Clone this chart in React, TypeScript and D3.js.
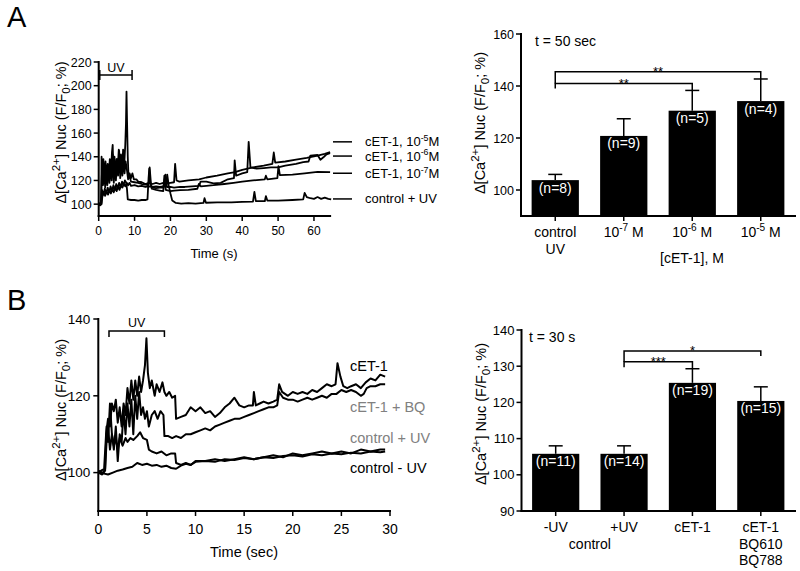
import React from 'react';
import * as d3 from 'd3';

type Pt = [number, number];
const FONT = '"Liberation Sans", Arial, Helvetica, sans-serif';

// ---------------- Panel A : time course (time s, value %) ----------------
const traceA_1e5: Pt[] = [[0,101],[0.4,100],[0.7,101],[0.8,140],[1.0,126],[1.3,138],[1.6,122],[1.9,136],[2.2,120],[2.5,134],[2.8,124],[3.1,138],[3.4,126],[3.7,144],[3.9,150],[4.1,128],[4.4,140],[4.7,124],[5.0,138],[5.3,130],[5.6,146],[5.9,128],[6.2,142],[6.5,126],[6.8,146],[7.1,132],[7.4,150],[7.6,168],[7.75,195],[7.9,170],[8.1,140],[8.3,124],[8.6,126],[9,122],[9.4,126],[9.8,121],[10.5,121],[11,119],[12,118.5],[13,117],[14,118],[15,117],[16,118],[17,117],[18,118],[19,117.5],[20,118],[21,118.5],[21.3,134],[21.7,120],[22.5,119],[25,120],[28,121],[30,122.5],[33,124],[36,126],[38,127],[40,129],[43,131],[46,132.5],[48.4,134],[48.8,143.6],[49.2,135],[52,136],[55,137.5],[58,139],[61,141],[63,142.5],[64.5,144]];
const traceA_1e6: Pt[] = [[0,100],[0.6,101],[0.9,126],[1.2,116],[1.5,130],[1.8,114],[2.1,128],[2.4,116],[2.7,133],[3.0,118],[3.3,135],[3.6,120],[3.9,142],[4.2,118],[4.5,132],[4.8,120],[5.1,138],[5.4,124],[5.7,145],[6.0,122],[6.3,138],[6.6,124],[6.9,140],[7.2,126],[7.5,136],[7.9,128],[8.2,121],[8.6,124],[9,119],[10,118.5],[11,118],[12,117],[13,116.5],[13.9,116],[14.2,131],[14.6,116],[15,114],[16,113.5],[17,114],[18,114],[18.6,125],[19,114.5],[20,114.5],[21,114],[22.7,114.6],[24,114.5],[26,115],[28,115.5],[28.4,119],[30,119],[32,117.5],[34,118],[36,121],[37.7,122],[37.9,137],[38.3,124],[40,126],[41.4,127],[41.8,152.6],[42.3,131],[44,130],[46,130.5],[48,131],[50,131],[52,132.5],[55,134],[57,135.5],[58.5,136],[59,141],[61,141.5],[61.8,137.5],[62.8,140],[63.5,142],[64.5,143]];
const traceA_1e7: Pt[] = [[0,99],[0.7,100],[0.9,112],[1.3,108],[1.7,113],[2.1,109],[2.5,114],[2.9,110],[3.3,115],[3.7,111],[4.1,116],[4.5,112],[4.9,117],[5.3,113],[5.7,118],[6.1,114],[6.5,119],[6.9,116],[7.3,120],[7.7,118],[7.9,112],[8.1,104],[9,103.5],[10,103.5],[11,103],[12,103.5],[13,103.5],[13.6,104],[13.9,122],[14.1,130],[14.4,118],[14.8,113],[16,112],[17,111.5],[18,111],[18.3,124],[18.7,112],[20,111],[21,111.5],[22.7,111.8],[25,112],[27.5,113],[27.9,117],[28.5,115],[30,115.5],[32,116],[35,117],[37.6,118],[40,119],[43,120],[46.3,121],[46.6,124],[47,121],[49.8,122],[50.1,132],[50.5,124.5],[54,125],[57.4,126],[61,127.3],[64.5,127]];
const traceA_ctrl: Pt[] = [[0,100],[0.4,99],[0.8,100],[1.0,106],[1.4,110],[1.8,107],[2.2,111],[2.6,108],[3.0,112],[3.4,109],[3.8,113],[4.2,110],[4.6,114],[5.0,111],[5.4,115],[5.8,112],[6.2,116],[6.6,114],[7.0,117],[7.4,115],[7.8,118],[8.2,116],[8.6,118],[9,115.5],[10,116],[11,115],[12,115.5],[13,114.5],[14,115],[15,114.5],[16,115],[17,114.5],[18,115],[18.8,115],[19.1,125],[19.5,116],[20,109],[20.5,103],[21.5,101],[23,100.5],[25,100.8],[27,100.5],[29.2,101],[29.5,105],[29.9,101.2],[33,101.5],[37,101.5],[40,102],[43,102.2],[43.4,110.4],[43.8,102.5],[46.3,102.5],[46.6,106.8],[47,103],[50,103],[54,103.5],[57,104],[57.4,109.5],[58,106],[59,105],[60,104.5],[61,106],[62,104.5],[63,105.5],[64,104.5],[64.8,104]];
const legendA_labels = ['cET-1, 10^{-5}M', 'cET-1, 10^{-6}M', 'cET-1, 10^{-7}M', 'control + UV'];
const legendA_levels = [152.6, 140.6, 126.1, 104.4];
const timeTicksA = [0, 10, 20, 30, 40, 50, 60];
const valueTicksA = [100, 120, 140, 160, 180, 200, 220];
const uvA = { start: 0.3, end: 9.3, level: 209 };

// ---------------- Panel A : bars ----------------
const barCatsA = [['control', 'UV'], ['10^{-7} M'], ['10^{-6} M'], ['10^{-5} M']];
const barMeanA = [103.8, 120.8, 130.5, 134.2];
const barSemA = [2.2, 6.6, 7.8, 8.5];
const barNA = ['(n=8)', '(n=9)', '(n=5)', '(n=4)'];
const barTicksA = [100, 120, 140, 160];
const sigA = [
  { from: 0, to: 3, level: 145.5, leftTo: 141, rightTo: 142.7, label: '**' },
  { from: 0, to: 2, level: 141, leftTo: 139, rightTo: 138.3, label: '**' },
];

// ---------------- Panel B : time course ----------------
const traceB_cet: Pt[] = [[0,100],[0.3,100.5],[0.6,101],[0.8,110],[1.0,114],[1.2,112],[1.4,118],[1.6,116],[1.8,119],[2.0,113],[2.2,117],[2.4,112],[2.6,118],[2.8,115],[3.0,122],[3.2,118],[3.4,124],[3.6,119],[3.8,124],[4.0,120],[4.2,125],[4.4,121],[4.6,124],[4.8,128],[4.95,135],[5.1,126],[5.3,122],[5.5,124],[5.8,120],[6.0,123],[6.3,121],[6.6,123.5],[6.8,121],[7.0,120],[7.3,121],[7.6,119.5],[7.9,120],[8.0,114],[8.5,114.5],[9.0,115],[9.5,117],[10,116],[10.5,117],[11,115.5],[11.5,116],[12,114.5],[12.5,115.5],[13,117],[13.5,118],[14,119.5],[14.5,117.5],[15,117],[15.5,117.5],[15.9,117.5],[16.0,121],[16.2,117.5],[16.6,118],[17,118.5],[17.5,118],[18,118.5],[18.4,119],[18.6,123],[18.9,121],[19.5,120],[20,121],[20.5,120.5],[21,121],[21.5,120.5],[22,121.5],[22.5,121],[23,122],[23.5,123],[24,122.5],[24.4,123],[24.6,128.5],[24.9,125],[25.2,122.5],[25.6,122],[26,122.5],[26.5,123],[27,122],[27.5,123.5],[28,124.5],[28.5,124],[29,125.5],[29.5,125]];
const traceB_bq: Pt[] = [[0,100],[0.4,99.5],[0.7,100.5],[0.85,112],[1.0,108],[1.2,118],[1.4,110],[1.6,106],[1.8,112],[2.0,103],[2.2,110],[2.4,108],[2.6,116],[2.8,110],[3.0,118],[3.2,112],[3.4,119],[3.6,110],[3.8,120],[4.0,114],[4.2,121],[4.4,115],[4.6,117],[4.8,114],[5.0,116],[5.2,112],[5.5,115],[5.8,116],[6.1,114],[6.4,116],[6.7,115],[6.8,109.5],[7.2,109.5],[7.6,109],[8,109.5],[8.5,109],[9,110],[9.5,110],[10,110.5],[10.5,111],[11,111.5],[11.5,111],[12,112],[12.5,112.5],[13,113],[13.5,113.5],[14,114],[14.5,114],[15,114.5],[15.5,115],[16,115.5],[16.5,116],[17,116.5],[17.5,117],[18,117],[18.4,117.5],[18.6,121],[19,119.5],[19.5,119],[20,119],[20.5,118.5],[21,119],[21.5,119.5],[22,119],[22.5,119.5],[23,120],[23.5,119.5],[24,120.5],[24.5,120.5],[25,121.5],[25.5,121],[26,121.5],[26.5,121],[27,120],[27.3,120.5],[27.6,122],[28,122.5],[28.5,122.5],[29,123],[29.5,123]];
const traceB_ctrlUV: Pt[] = [[0,100],[0.5,100],[0.7,101],[0.85,108],[1.0,112],[1.2,106],[1.4,110],[1.6,107],[1.8,109],[2.0,106],[2.2,109],[2.5,107],[2.8,109],[3.0,108],[3.3,109],[3.6,108.5],[4.0,109.5],[4.3,110.5],[4.6,109],[5.0,108.5],[5.2,106],[5.5,105.5],[6,105],[6.5,105.5],[7,104.5],[7.5,105],[7.9,105],[8,102.5],[8.5,102],[9,102.5],[9.5,102],[10,103],[11,103],[12,103.5],[13,103],[14,103.5],[15,104],[16,103.5],[17,104],[18,104.5],[19,104],[20,105],[21,104.5],[22,105],[23,105.5],[24,105],[25,105.5],[26,105],[27,106],[28,105.5],[29,106],[29.5,106]];
const traceB_ctrlNoUV: Pt[] = [[0,100.5],[0.5,99.8],[1,99.5],[1.5,100],[2,100.5],[2.5,100.8],[3,101.2],[3.5,101.5],[4,102.5],[4.5,102],[5,102.3],[5.5,101.8],[6,102],[6.5,101.5],[7,101.8],[7.5,101.2],[8,101],[8.5,101.8],[9,102.3],[9.5,102],[10,102.8],[11,103],[12,102.8],[13,103.5],[14,103.3],[15,103.8],[16,103.5],[17,104],[18,103.8],[19,104.3],[20,104.5],[21,104.2],[22,104.8],[23,104.5],[24,105],[25,104.8],[26,105.2],[27,105],[28,105.5],[29,105.3],[29.5,105.5]];
const legendB_labels = ['cET-1', 'cET-1 + BQ', 'control + UV', 'control - UV'];
const legendB_colors = ['#000000', '#808080', '#808080', '#000000'];
const legendB_levels = [127.8, 117.2, 109, 101.3];
const timeTicksB = [0, 5, 10, 15, 20, 25, 30];
const valueTicksB = [100, 120, 140];
const uvB = { start: 1.1, end: 6.8, level: 136.9 };

// ---------------- Panel B : bars ----------------
const barCatsB = [['-UV'], ['+UV'], ['cET-1'], ['cET-1', 'BQ610', 'BQ788']];
const barGroupB = 'control';
const barMeanB = [105.8, 105.8, 125.4, 120.4];
const barSemB = [2.2, 2.2, 3.9, 3.9];
const barNB = ['(n=11)', '(n=14)', '(n=19)', '(n=15)'];
const barTicksB = [90, 100, 110, 120, 130, 140];
const sigB = [
  { from: 1, to: 3, level: 134.2, leftTo: 131.2, rightTo: 132.8, label: '*' },
  { from: 1, to: 2, level: 131.2, leftTo: 129.7, rightTo: 129.3, label: '***' },
];

const Y_LABEL = 'Δ[Ca^{2+}] Nuc (F/F_{0}; %)';

function rich(s: string, fs: number, supScale = 0.72) {
  const tokens = s.split(/(\^\{[^}]*\}|_\{[^}]*\})/g).filter((t) => t !== '');
  let cur = 0;
  return tokens.map((tk, i) => {
    let tgt = 0;
    let txt = tk;
    let size = fs;
    if (tk.startsWith('^{')) { tgt = -fs * 0.4; txt = tk.slice(2, -1); size = fs * supScale; }
    else if (tk.startsWith('_{')) { tgt = fs * 0.25; txt = tk.slice(2, -1); size = fs * supScale; }
    const dy = tgt - cur;
    cur = tgt;
    return <tspan key={i} dy={dy} fontSize={size}>{txt}</tspan>;
  });
}

function YLabel({ x, y }: { x: number; y: number }) {
  return (
    <text transform={`translate(${x},${y}) rotate(-90)`} textAnchor="middle" fontSize={14.5} fontFamily={FONT} fill="#000">
      {rich(Y_LABEL, 14.5, 0.8)}
    </text>
  );
}

function LeftAxis({ scale, x, ticks, top, bottom, fs, gap }: any) {
  return (
    <g>
      <line x1={x} x2={x} y1={top} y2={bottom} stroke="#000" strokeWidth={2} strokeLinecap="square" />
      {ticks.map((t: number) => (
        <g key={t}>
          <line x1={x - 5} x2={x} y1={scale(t)} y2={scale(t)} stroke="#000" strokeWidth={1.5} />
          <text x={x - gap} y={scale(t)} dy="0.36em" textAnchor="end" fontSize={fs} fontFamily={FONT}>{t}</text>
        </g>
      ))}
    </g>
  );
}

function BottomAxis({ scale, y, ticks, left, right, fs, baseline }: any) {
  return (
    <g>
      <line x1={left} x2={right} y1={y} y2={y} stroke="#000" strokeWidth={2} strokeLinecap="square" />
      {ticks.map((t: number) => (
        <g key={t}>
          <line x1={scale(t)} x2={scale(t)} y1={y} y2={y + 5} stroke="#000" strokeWidth={1.5} />
          <text x={scale(t)} y={baseline} textAnchor="middle" fontSize={fs} fontFamily={FONT}>{t}</text>
        </g>
      ))}
    </g>
  );
}

function UVBracket({ xs, ys, uv, fs, capUp }: any) {
  const x1 = xs(uv.start), x2 = xs(uv.end), y = ys(uv.level);
  const d = capUp
    ? `M${x1},${y - 5}V${y + 5}M${x1},${y}H${x2}M${x2},${y - 5}V${y + 5}`
    : `M${x1},${y + 6}V${y}H${x2}V${y + 6}`;
  return (
    <g>
      <path d={d} fill="none" stroke="#000" strokeWidth={1.5} />
      <text x={(x1 + x2) / 2} y={y - 3.5} textAnchor="middle" fontSize={fs} fontFamily={FONT}>UV</text>
    </g>
  );
}

function Bars({ xb, ys, means, sems, ns, sig, ticks, cats, yAxisTop, xAxisY, tickFs }: any) {
  const cx = (i: number) => (xb(String(i)) as number) + xb.bandwidth() / 2;
  return (
    <g>
      {means.map((m: number, i: number) => (
        <g key={i}>
          <rect x={xb(String(i))} y={ys(m)} width={xb.bandwidth()} height={ys(90) - ys(m)} fill="#000" />
          <line x1={cx(i)} x2={cx(i)} y1={ys(m)} y2={ys(m + sems[i])} stroke="#000" strokeWidth={1.5} />
          <line x1={cx(i) - 7} x2={cx(i) + 7} y1={ys(m + sems[i])} y2={ys(m + sems[i])} stroke="#000" strokeWidth={1.5} />
          <text x={cx(i)} y={ys(m) + 12.5} textAnchor="middle" fontSize={14} fontFamily={FONT} fill="#fff">{ns[i]}</text>
          <line x1={cx(i)} x2={cx(i)} y1={xAxisY} y2={xAxisY + 5} stroke="#000" strokeWidth={1.5} />
          {cats[i].map((line: string, j: number) => (
            <text key={j} x={cx(i)} y={xAxisY + 21 + j * 16.5} textAnchor="middle" fontSize={14} fontFamily={FONT}>{rich(line, 14)}</text>
          ))}
        </g>
      ))}
      {sig.map((s: any, k: number) => {
        const x1 = cx(s.from), x2 = cx(s.to), y = ys(s.level);
        return (
          <g key={k}>
            <path d={`M${x1},${ys(s.leftTo)}V${y}H${x2}V${ys(s.rightTo)}`} fill="none" stroke="#000" strokeWidth={1.5} />
            <text x={(x1 + x2) / 2} y={y + 4.5} textAnchor="middle" fontSize={13} fontFamily={FONT}>{s.label}</text>
          </g>
        );
      })}
      <LeftAxis scale={ys} x={xb.range()[0]} ticks={ticks} top={yAxisTop} bottom={xAxisY} fs={tickFs} gap={7} />
      <line x1={xb.range()[0]} x2={xb.range()[1]} y1={xAxisY} y2={xAxisY} stroke="#000" strokeWidth={2} strokeLinecap="square" />
    </g>
  );
}

export default function App() {
  // Panel A time course
  const xA = d3.scaleLinear().domain([0, 65]).range([98.7, 331.9]);
  const yA = d3.scaleLinear().domain([90, 220]).range([216, 62]);
  // Panel A bars
  const xbA = d3.scaleBand().domain(['0', '1', '2', '3']).range([521, 795]).paddingInner(0.31).paddingOuter(0.155);
  const ybA = d3.scaleLinear().domain([90, 160]).range([216, 34]);
  // Panel B time course
  const xB = d3.scaleLinear().domain([0, 30]).range([98.3, 390]);
  const yB = d3.scaleLinear().domain([90, 140]).range([511, 319]);
  // Panel B bars
  const xbB = d3.scaleBand().domain(['0', '1', '2', '3']).range([521.5, 795]).paddingInner(0.31).paddingOuter(0.155);
  const ybB = d3.scaleLinear().domain([90, 140]).range([511, 330]);

  const lineA = d3.line<Pt>().x((d) => xA(d[0])).y((d) => yA(d[1]));
  const lineB = d3.line<Pt>().x((d) => xB(d[0])).y((d) => yB(d[1]));

  const tracesA = [traceA_ctrl, traceA_1e7, traceA_1e6, traceA_1e5];
  const tracesB = [traceB_ctrlNoUV, traceB_ctrlUV, traceB_bq, traceB_cet];
  const cxB = (i: number) => (xbB(String(i)) as number) + xbB.bandwidth() / 2;

  return (
    <svg width={800} height={571} style={{ position: 'absolute', left: 0, top: 0, background: '#fff' }} fontFamily={FONT}>
      <rect width={800} height={571} fill="#fff" />
      {/* Panel letters */}
      <text x={7} y={27} fontSize={29} fontFamily={FONT}>A</text>
      <text x={7} y={310} fontSize={29} fontFamily={FONT}>B</text>

      {/* ===== Panel A time course ===== */}
      <g>
        {tracesA.map((t, i) => (
          <path key={i} d={lineA(t) || ''} fill="none" stroke="#000" strokeWidth={1.8} strokeLinejoin="round" />
        ))}
        <LeftAxis scale={yA} x={98.7} ticks={valueTicksA} top={yA(220)} bottom={216} fs={12.5} gap={7} />
        <BottomAxis scale={xA} y={216} ticks={timeTicksA} left={98.7} right={xA(64.5)} fs={12} baseline={235} />
        <text x={214} y={258} textAnchor="middle" fontSize={13} fontFamily={FONT}>Time (s)</text>
        <YLabel x={66} y={132.5} />
        <UVBracket xs={xA} ys={yA} uv={uvA} fs={12.5} capUp />
        {legendA_labels.map((lab, i) => (
          <g key={i}>
            <line x1={333} x2={352} y1={yA(legendA_levels[i])} y2={yA(legendA_levels[i])} stroke="#000" strokeWidth={1.5} />
            <text x={365} y={yA(legendA_levels[i]) + 4.5} fontSize={13} fontFamily={FONT}>{rich(lab, 13, 0.68)}</text>
          </g>
        ))}
      </g>

      {/* ===== Panel A bars ===== */}
      <Bars xb={xbA} ys={ybA} means={barMeanA} sems={barSemA} ns={barNA} sig={sigA} ticks={barTicksA} cats={barCatsA} yAxisTop={ybA(160)} xAxisY={216} tickFs={12.5} />
      <text x={535} y={46} fontSize={14} fontFamily={FONT}>t = 50 sec</text>
      <text x={692} y={262.5} textAnchor="middle" fontSize={14} fontFamily={FONT}>[cET-1], M</text>
      <YLabel x={485} y={123} />

      {/* ===== Panel B time course ===== */}
      <g>
        {tracesB.map((t, i) => (
          <path key={i} d={lineB(t) || ''} fill="none" stroke="#000" strokeWidth={2} strokeLinejoin="round" />
        ))}
        <LeftAxis scale={yB} x={98.3} ticks={valueTicksB} top={yB(140)} bottom={511} fs={13.5} gap={8} />
        <BottomAxis scale={xB} y={511} ticks={timeTicksB} left={98.3} right={390} fs={14} baseline={534} />
        <text x={244} y={557} textAnchor="middle" fontSize={14.5} fontFamily={FONT}>Time (sec)</text>
        <YLabel x={66} y={410} />
        <UVBracket xs={xB} ys={yB} uv={uvB} fs={12.5} capUp={false} />
        {legendB_labels.map((lab, i) => (
          <text key={i} x={350} y={yB(legendB_levels[i]) + 5} fontSize={14.5} fontFamily={FONT} fill={legendB_colors[i]}>{lab}</text>
        ))}
      </g>

      {/* ===== Panel B bars ===== */}
      <Bars xb={xbB} ys={ybB} means={barMeanB} sems={barSemB} ns={barNB} sig={sigB} ticks={barTicksB} cats={barCatsB} yAxisTop={ybB(140)} xAxisY={511} tickFs={13} />
      <text x={(cxB(0) + cxB(1)) / 2} y={511 + 21 + 16.5} textAnchor="middle" fontSize={14} fontFamily={FONT}>{barGroupB}</text>
      <text x={529} y={341.5} fontSize={14} fontFamily={FONT}>t = 30 s</text>
      <YLabel x={486} y={414} />
    </svg>
  );
}
